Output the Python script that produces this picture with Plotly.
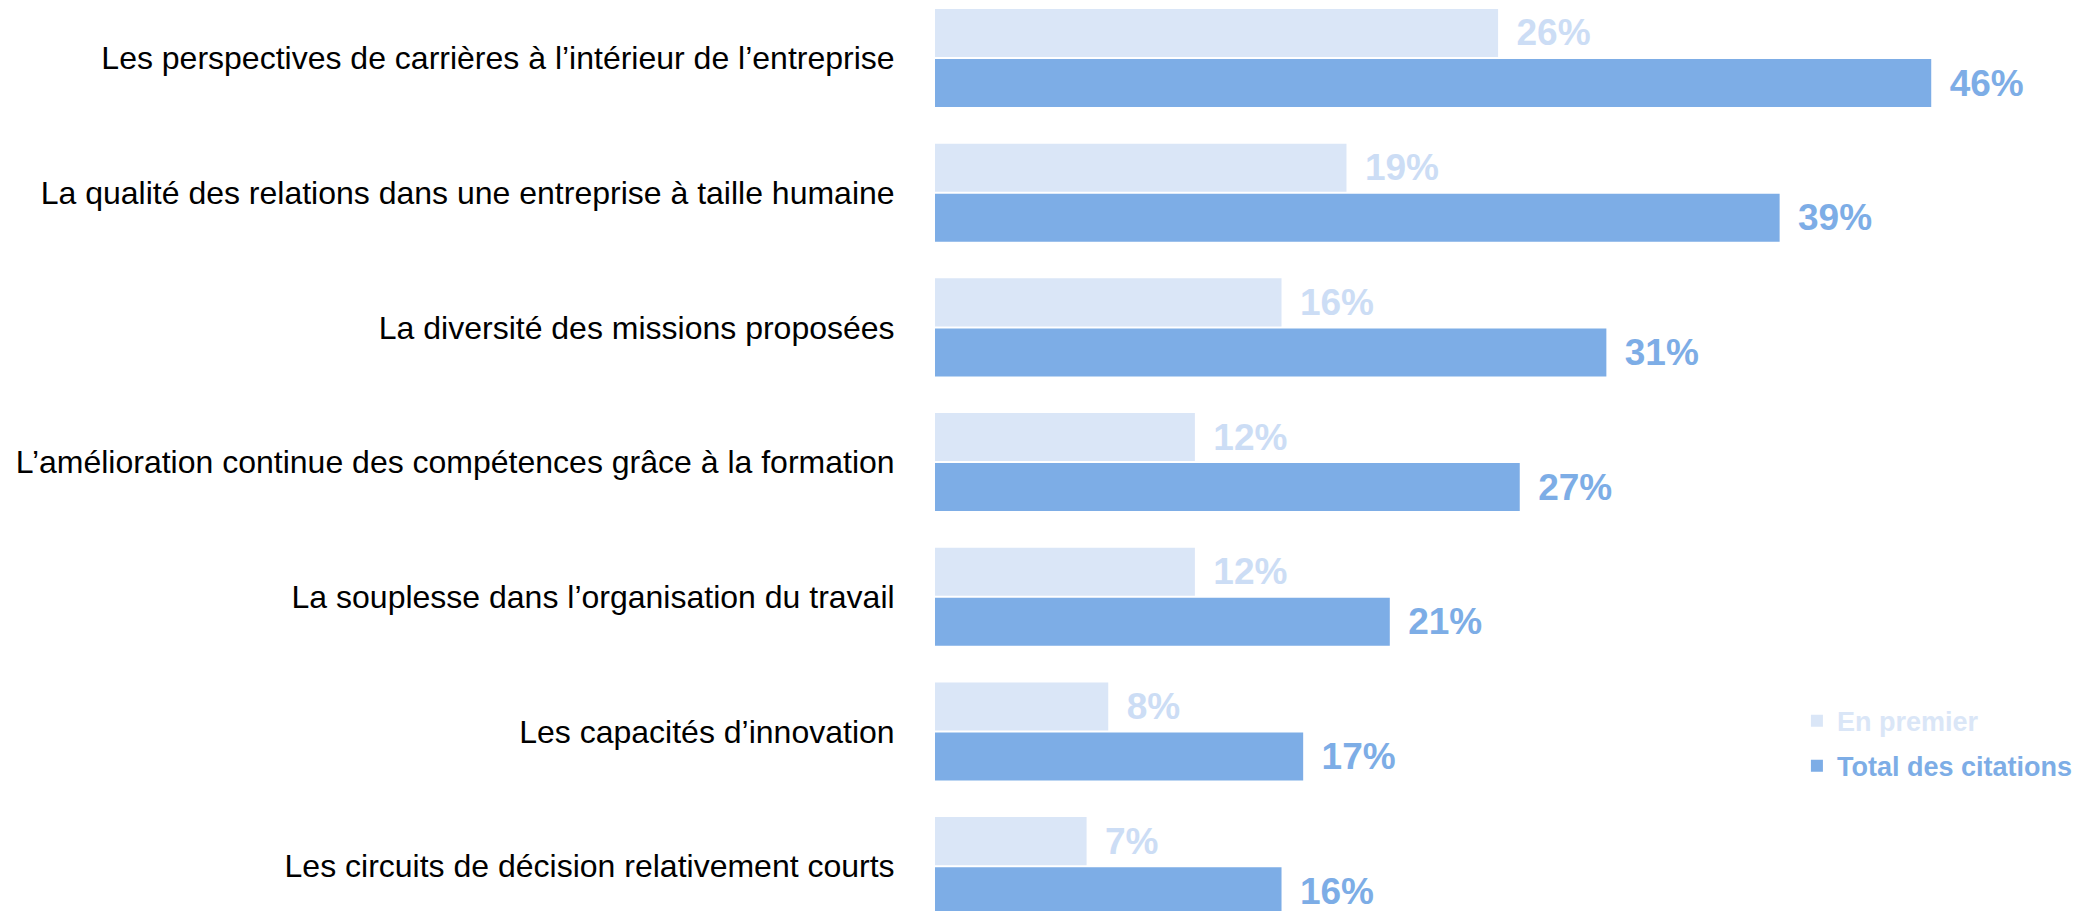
import plotly.graph_objects as go

categories = [
    "Les perspectives de carrières à l’intérieur de l’entreprise",
    "La qualité des relations dans une entreprise à taille humaine",
    "La diversité des missions proposées",
    "L’amélioration continue des compétences grâce à la formation",
    "La souplesse dans l’organisation du travail",
    "Les capacités d’innovation",
    "Les circuits de décision relativement courts",
]
en_premier = [26, 19, 16, 12, 12, 8, 7]
total_citations = [46, 39, 31, 27, 21, 17, 16]

series_names = ["En premier", "Total des citations"]
bar_colors = ["#DAE6F7", "#7DADE6"]
text_colors = ["#CCDDF5", "#7DADE6"]

fig = go.Figure()
for i, (name, vals, bc, tc) in enumerate(zip(series_names, [en_premier, total_citations], bar_colors, text_colors)):
    fig.add_trace(go.Bar(
        y=categories,
        x=vals,
        orientation="h",
        name=f"<b><span style='color:{bc}'>{name}</span></b>",
        legendgroup=f"g{i}",
        marker=dict(color=bc, line=dict(width=0)),
        texttemplate="\u2005\u2006%{x}%",
        textposition="outside",
        constraintext="none",
        cliponaxis=False,
        textfont=dict(family="Liberation Sans, Arial, sans-serif", size=37, color=tc, weight="bold"),
        hoverinfo="x+y",
    ))

fig.update_layout(
    width=2077,
    height=903,
    margin=dict(l=927, r=0, t=0, b=0, autoexpand=False),
    paper_bgcolor="white",
    plot_bgcolor="white",
    barmode="group",
    bargap=0.257,
    bargroupgap=0.04,
    font=dict(family="Liberation Sans, Arial, sans-serif", size=32, color="#000000"),
    xaxis=dict(range=[0, 53.1], visible=False, fixedrange=True),
    yaxis=dict(
        type="category",
        range=[6.333, -0.3712],
        showgrid=False,
        zeroline=False,
        showline=False,
        ticks="outside",
        ticklen=0,
        ticklabelstandoff=33,
        tickfont=dict(size=32, color="#000000"),
        automargin=False,
    ),
    showlegend=True,
    legend=dict(
        xref="container", yref="container",
        x=0.8613, y=0.2374,
        xanchor="left", yanchor="top",
        font=dict(size=27, family="Liberation Sans, Arial, sans-serif"),
        bgcolor="rgba(0,0,0,0)",
        traceorder="grouped",
        tracegroupgap=7,
    ),
)

fig.write_html("out.html")
